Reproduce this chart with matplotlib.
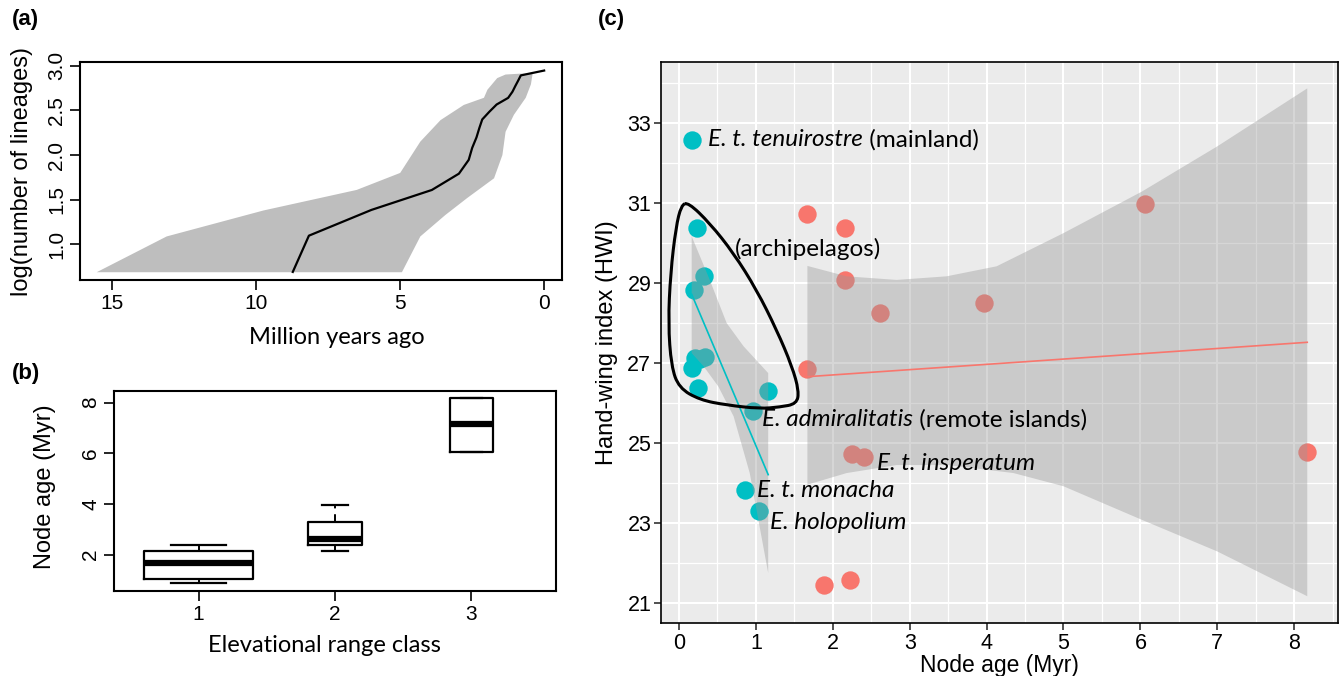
import matplotlib
matplotlib.use('Agg')
import matplotlib.pyplot as plt
from matplotlib.path import Path
from matplotlib.patches import PathPatch
import numpy as np

plt.rcParams['font.family'] = ['Liberation Sans', 'DejaVu Sans']
TEXT_FONT = ['Lato', 'DejaVu Sans']

# (a) lineages through time
ltt_n = [2, 3, 4, 5, 6, 7, 8, 9, 10, 11, 12, 13, 14, 15, 16, 17, 18, 19]
ltt_t = [8.73, 8.17, 6.0, 3.9, 2.96, 2.62, 2.5, 2.35, 2.25, 2.15, 1.9, 1.65,
         1.25, 1.1, 1.0, 0.9, 0.81, 0.0]
band_old_t = [15.54, 13.11, 9.75, 6.51, 5.0, 4.3, 3.6, 2.79, 2.09, 1.97,
              1.63, 1.34, 0.81, 0.4]
band_old_y = [0.69, 1.09, 1.38, 1.61, 1.80, 2.15, 2.39, 2.56, 2.64, 2.73,
              2.86, 2.90, 2.91, 2.91]
band_young_t = [0.4, 0.46, 0.64, 1.05, 1.34, 1.45, 1.74, 2.67, 3.43, 4.30,
                4.94]
band_young_y = [2.91, 2.79, 2.64, 2.45, 2.26, 2.0, 1.74, 1.52, 1.33, 1.09,
                0.69]

# (b) node age by elevational range class
range_class = [1, 2, 3]
box_whislo = [0.87, 2.16, 6.07]
box_q1 = [1.04, 2.40, 6.07]
box_med = [1.68, 2.62, 7.15]
box_q3 = [2.16, 3.28, 8.20]
box_whishi = [2.40, 3.96, 8.20]
box_width = [0.80, 0.39, 0.32]

# (c) hand-wing index vs node age
teal_x = [0.165, 0.23, 0.32, 0.195, 0.21, 0.34, 0.27, 0.17, 0.25, 1.16, 0.96,
          0.86, 1.04]
teal_y = [32.58, 30.37, 29.17, 28.82, 27.12, 27.15, 27.1, 26.87, 26.38, 26.29,
          25.81, 23.83, 23.31]
salmon_x = [1.67, 2.16, 2.16, 2.61, 3.96, 1.67, 6.06, 2.25, 2.40, 1.88, 2.23,
            8.17]
salmon_y = [30.73, 30.37, 29.07, 28.25, 28.5, 26.85, 30.98, 24.73, 24.64,
            21.44, 21.57, 24.78]

teal_fit_x = [0.165, 1.16]
teal_fit_y = [28.72, 24.21]
teal_up_x = [0.165, 0.40, 0.62, 0.84, 1.16]
teal_up_y = [30.17, 29.08, 28.0, 27.42, 26.75]
teal_lo_x = [0.165, 0.32, 0.51, 0.71, 0.92, 1.16]
teal_lo_y = [27.25, 26.92, 26.42, 25.67, 24.25, 21.75]

salmon_fit_x = [1.67, 8.17]
salmon_fit_y = [26.66, 27.52]
salmon_up_x = [1.67, 2.18, 2.83, 3.48, 4.13, 5.0, 6.02, 7.0, 8.17]
salmon_up_y = [29.43, 29.17, 29.08, 29.17, 29.42, 30.25, 31.29, 32.42, 33.87]
salmon_lo_x = [1.67, 2.18, 2.83, 3.5, 4.35, 5.0, 6.02, 7.0, 8.17]
salmon_lo_y = [23.96, 24.25, 24.45, 24.45, 24.25, 23.92, 23.08, 22.29, 21.17]

# hand drawn outline around the archipelago birds (closed)
loop_x = [0.12, 0.40, 0.71, 1.01, 1.27, 1.47, 1.56, 1.53, 1.31, 1.05, 0.62,
          0.27, 0.0, -0.10, -0.14, -0.11, -0.04, 0.03]
loop_y = [31.02, 30.5, 29.75, 28.83, 27.83, 26.92, 26.3, 25.98, 25.9, 25.86,
          25.95, 26.08, 26.38, 26.92, 28.0, 29.25, 30.4, 30.95]

TEAL = '#00BFC4'
SALMON = '#F8766D'

fig = plt.figure(figsize=(13.39, 6.76), dpi=100)


def r_style(ax):
    for s in ax.spines.values():
        s.set_linewidth(1.5)
    ax.tick_params(direction='out', length=7, width=1.2, labelsize=15,
                   pad=3)


def smooth_loop(xs, ys):
    # quadratic spline through the midpoints, vertices act as controls
    pts = list(zip(xs, ys))
    n = len(pts)
    mids = [((pts[i][0] + pts[(i + 1) % n][0]) / 2,
             (pts[i][1] + pts[(i + 1) % n][1]) / 2) for i in range(n)]
    verts = [mids[-1]]
    codes = [Path.MOVETO]
    for i in range(n):
        verts += [pts[i], mids[i]]
        codes += [Path.CURVE3, Path.CURVE3]
    return Path(verts, codes)


# ---- (a)
ax_a = fig.add_axes([80 / 1339, 1 - 280 / 676, 482 / 1339, 218 / 676])
ax_a.fill(band_old_t + band_young_t, band_old_y + band_young_y,
          color='#BEBEBE', lw=0)
ax_a.plot(ltt_t, np.log(ltt_n), color='black', lw=1.6)
ax_a.set_xlim(16.12, -0.62)
ax_a.set_ylim(0.603, 3.04)
ax_a.set_xticks([15, 10, 5, 0])
ax_a.set_yticks([1.0, 1.5, 2.0, 2.5, 3.0])
ax_a.set_yticklabels(['1.0', '1.5', '2.0', '2.5', '3.0'], rotation=90,
                     va='center')
r_style(ax_a)
ax_a.set_ylabel('log(number of lineages)', fontsize=17, va='center')
ax_a.yaxis.set_label_coords(-0.12, 0.5)
ax_a.set_xlabel('Million years ago', fontsize=17, family=TEXT_FONT,
                va='center')
ax_a.xaxis.set_label_coords(0.533, -0.265)
fig.text(12 / 1339, 1 - 20 / 676, '(a)', fontsize=16, fontweight='bold',
         va='center')

# ---- (b)
ax_b = fig.add_axes([114 / 1339, 1 - 591 / 676, 442 / 1339, 200 / 676])
stats = []
for i in range(len(range_class)):
    stats.append(dict(whislo=box_whislo[i], q1=box_q1[i], med=box_med[i],
                      q3=box_q3[i], whishi=box_whishi[i], fliers=[]))
ax_b.bxp(stats, positions=range_class, widths=box_width,
         capwidths=[w / 2 for w in box_width],
         boxprops=dict(color='black', lw=1.6),
         medianprops=dict(color='black', lw=4.5, solid_capstyle='butt'),
         whiskerprops=dict(color='black', lw=1.4, linestyle=(0, (4, 3))),
         capprops=dict(color='black', lw=1.6))
ax_b.set_xlim(0.38, 3.62)
ax_b.set_ylim(0.567, 8.46)
ax_b.set_xticks(range_class)
ax_b.set_xticklabels(['1', '2', '3'])
ax_b.set_yticks([2, 4, 6, 8])
ax_b.set_yticklabels(['2', '4', '6', '8'], rotation=90, va='center')
r_style(ax_b)
ax_b.set_ylabel('Node age (Myr)', fontsize=17, va='center')
ax_b.yaxis.set_label_coords(-0.155, 0.52)
ax_b.set_xlabel('Elevational range class', fontsize=17, family=TEXT_FONT,
                va='center')
ax_b.xaxis.set_label_coords(0.477, -0.27)
fig.text(12 / 1339, 1 - 373 / 676, '(b)', fontsize=16, fontweight='bold',
         va='center')

# ---- (c)
ax_c = fig.add_axes([661 / 1339, 1 - 623 / 676, 677 / 1339, 561 / 676])
ax_c.set_facecolor('#EBEBEB')
ax_c.set_xlim(-0.234, 8.57)
ax_c.set_ylim(20.5, 34.53)
ax_c.set_xticks(range(0, 9))
ax_c.set_yticks([21, 23, 25, 27, 29, 31, 33])
ax_c.set_xticks(np.arange(0.5, 8.6, 1.0), minor=True)
ax_c.set_yticks(np.arange(22, 35, 2), minor=True)
ax_c.grid(which='major', color='white', lw=1.5)
ax_c.grid(which='minor', color='white', lw=0.9)
ax_c.set_axisbelow(True)
ax_c.tick_params(which='minor', length=0)
ax_c.tick_params(which='major', direction='out', length=5, width=1.2,
                 color='#333333', labelsize=15.5, pad=2)
for s in ax_c.spines.values():
    s.set_linewidth(1.2)

ax_c.scatter(teal_x, teal_y, s=175, color=TEAL, lw=0, zorder=3)
ax_c.scatter(salmon_x, salmon_y, s=175, color=SALMON, lw=0, zorder=3)

ax_c.fill(teal_up_x + teal_lo_x[::-1], teal_up_y + teal_lo_y[::-1],
          color='#999999', alpha=0.4, lw=0, zorder=4)
ax_c.fill(salmon_up_x + salmon_lo_x[::-1], salmon_up_y + salmon_lo_y[::-1],
          color='#999999', alpha=0.4, lw=0, zorder=4)
ax_c.plot(teal_fit_x, teal_fit_y, color=TEAL, lw=1.2, zorder=5)
ax_c.plot(salmon_fit_x, salmon_fit_y, color=SALMON, lw=1.2, zorder=5)
ax_c.add_patch(PathPatch(smooth_loop(loop_x, loop_y), fill=False,
                         edgecolor='black', lw=2.2, zorder=6))


def label(x, y, italic, plain):
    t = ax_c.text(x, y, italic, fontsize=17.5, style='italic',
                  family=TEXT_FONT, va='center', zorder=7)
    if plain:
        ax_c.annotate(' ' + plain, xy=(1, 0), xycoords=t, va='bottom',
                      fontsize=17.5, family=TEXT_FONT, zorder=7)


label(0.38, 32.58, 'E. t. tenuirostre', '(mainland)')
ax_c.text(0.73, 29.85, '(archipelagos)', fontsize=17.5, family=TEXT_FONT,
          va='center', zorder=7)
label(1.08, 25.58, 'E. admiralitatis', '(remote islands)')
label(2.57, 24.5, 'E. t. insperatum', '')
label(1.02, 23.81, 'E. t. monacha', '')
label(1.18, 23.02, 'E. holopolium', '')

ax_c.set_ylabel('Hand-wing index (HWI)', fontsize=17, va='center')
ax_c.yaxis.set_label_coords(-0.08, 0.5)
ax_c.set_xlabel('Node age (Myr)', fontsize=16.5, va='center')
ax_c.xaxis.set_label_coords(0.5, -0.076)
fig.text(611 / 1339, 1 - 20 / 676, '(c)', fontsize=16, fontweight='bold',
         va='center', ha='center')

fig.savefig('out.png', dpi=100)
